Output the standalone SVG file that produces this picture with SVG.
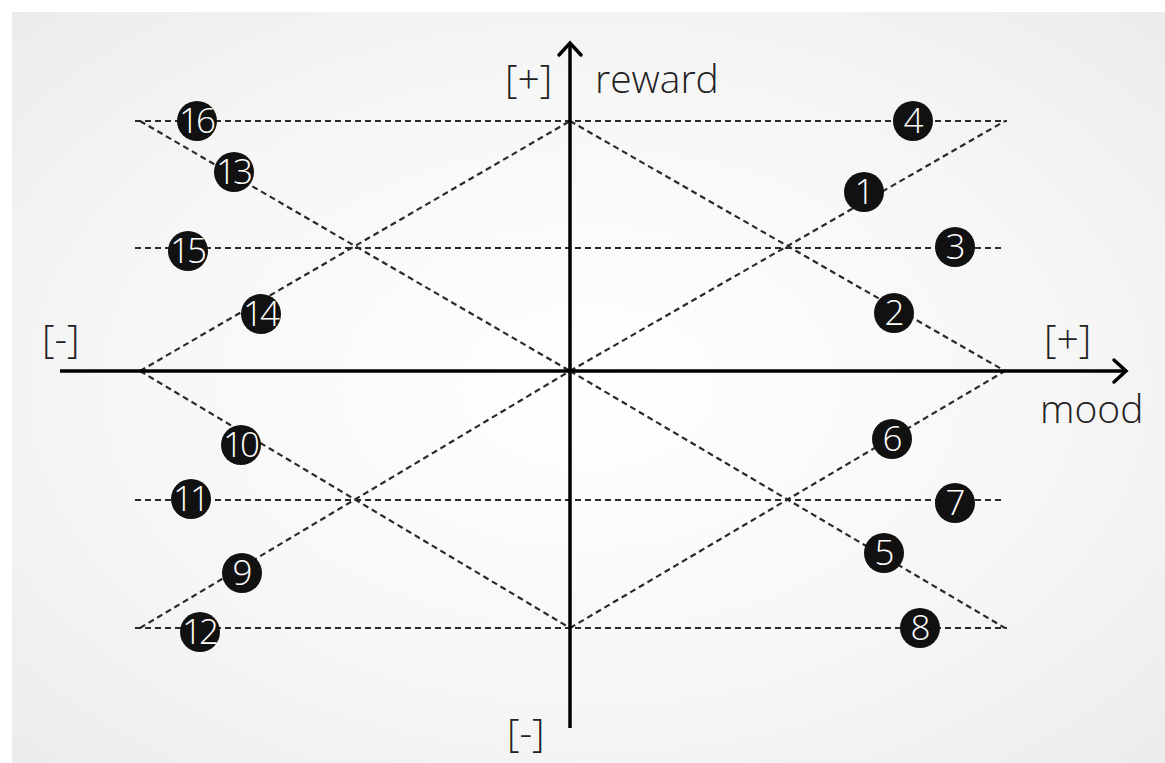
<svg xmlns="http://www.w3.org/2000/svg" width="1165" height="763" viewBox="0 0 1165 763">
<defs>
<radialGradient id="bg" cx="0.5" cy="0.5" r="0.7">
<stop offset="0" stop-color="#ffffff"/>
<stop offset="0.6" stop-color="#f6f6f6"/>
<stop offset="1" stop-color="#ececec"/>
</radialGradient>
<style>
.dash{stroke:#2a2a2a;stroke-width:2.2;stroke-dasharray:6 4;fill:none}
.axis{stroke:#000;stroke-width:3.5;fill:none}
.head{stroke:#000;stroke-width:3.5;fill:none;stroke-linecap:round;stroke-linejoin:miter}
.lbl{font-family:"Open Sans","Noto Sans","Liberation Sans",sans-serif;font-size:39px;fill:#222;font-weight:300}
.dot{fill:#111}
.num{font-family:"Open Sans","Noto Sans","Liberation Sans",sans-serif;font-size:35px;fill:#fff;font-weight:300;text-anchor:middle;letter-spacing:-3px}
</style>
</defs>
<rect x="0" y="0" width="1165" height="763" fill="#ffffff"/>
<rect x="12" y="12" width="1153" height="751" fill="url(#bg)"/>
<g id="connectors">
<line class="dash" x1="135" y1="121" x2="1007" y2="121"/>
<line class="dash" x1="135" y1="248" x2="1003" y2="248"/>
<line class="dash" x1="135" y1="500" x2="1003" y2="500"/>
<line class="dash" x1="135" y1="628" x2="1007" y2="628"/>
<line class="dash" x1="140" y1="121" x2="570" y2="371"/>
<line class="dash" x1="140" y1="371" x2="570" y2="121"/>
<line class="dash" x1="570" y1="121" x2="1005" y2="371"/>
<line class="dash" x1="570" y1="371" x2="1005" y2="121"/>
<line class="dash" x1="140" y1="371" x2="570" y2="628"/>
<line class="dash" x1="140" y1="628" x2="570" y2="371"/>
<line class="dash" x1="570" y1="371" x2="1005" y2="628"/>
<line class="dash" x1="570" y1="628" x2="1005" y2="371"/>
<line class="axis" x1="570" y1="44" x2="570" y2="728"/>
<polyline class="head" points="559,55 570,43 581,55"/>
<line class="axis" x1="60" y1="371" x2="1124" y2="371"/>
<polyline class="head" points="1114,360 1126,371 1114,382"/>
</g>
<g id="labels">
<text class="lbl" x="505" y="93">[+]</text>
<text class="lbl" x="595" y="93">reward</text>
<text class="lbl" x="42" y="353">[-]</text>
<text class="lbl" x="1044" y="353">[+]</text>
<text class="lbl" x="1040" y="423">mood</text>
<text class="lbl" x="507" y="747">[-]</text>
</g>
<g id="n16"><circle class="dot" cx="197" cy="121" r="20"/><text class="num" x="196" y="133">16</text></g>
<g id="n13"><circle class="dot" cx="234" cy="172" r="20"/><text class="num" x="233" y="184">13</text></g>
<g id="n15"><circle class="dot" cx="188" cy="251" r="20"/><text class="num" x="187" y="263">15</text></g>
<g id="n14"><circle class="dot" cx="261" cy="314" r="20"/><text class="num" x="260" y="326">14</text></g>
<g id="n4"><circle class="dot" cx="913" cy="121" r="20"/><text class="num" x="912" y="133">4</text></g>
<g id="n1"><circle class="dot" cx="864" cy="192" r="20"/><text class="num" x="863" y="204">1</text></g>
<g id="n3"><circle class="dot" cx="955" cy="247" r="20"/><text class="num" x="954" y="259">3</text></g>
<g id="n2"><circle class="dot" cx="894" cy="313" r="20"/><text class="num" x="893" y="325">2</text></g>
<g id="n10"><circle class="dot" cx="241" cy="445" r="20"/><text class="num" x="240" y="457">10</text></g>
<g id="n11"><circle class="dot" cx="191" cy="499" r="20"/><text class="num" x="190" y="511">11</text></g>
<g id="n9"><circle class="dot" cx="242" cy="573" r="20"/><text class="num" x="241" y="585">9</text></g>
<g id="n12"><circle class="dot" cx="200" cy="632" r="20"/><text class="num" x="199" y="644">12</text></g>
<g id="n6"><circle class="dot" cx="892" cy="439" r="20"/><text class="num" x="891" y="451">6</text></g>
<g id="n7"><circle class="dot" cx="955" cy="503" r="20"/><text class="num" x="954" y="515">7</text></g>
<g id="n5"><circle class="dot" cx="884" cy="553" r="20"/><text class="num" x="883" y="565">5</text></g>
<g id="n8"><circle class="dot" cx="920" cy="628" r="20"/><text class="num" x="919" y="640">8</text></g>
</svg>
